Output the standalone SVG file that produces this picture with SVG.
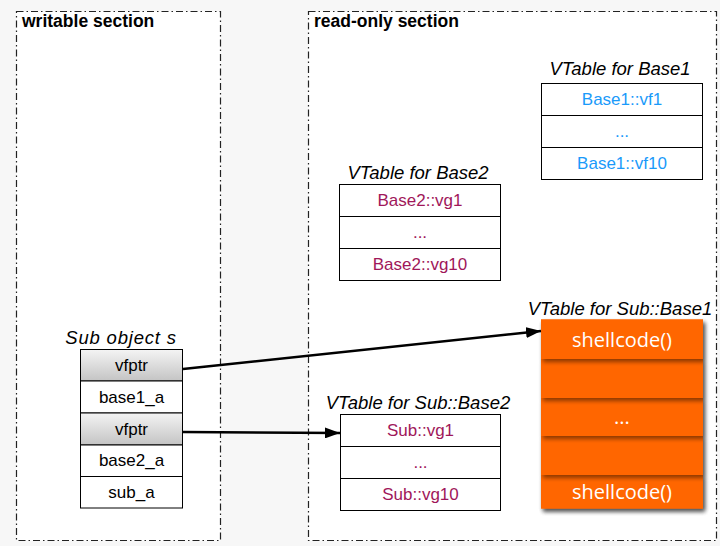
<svg xmlns="http://www.w3.org/2000/svg" width="720" height="546" viewBox="0 0 720 546">
<defs>
  <linearGradient id="gv" x1="0" y1="0" x2="0" y2="1">
    <stop offset="0" stop-color="#f4f4f4"/>
    <stop offset="1" stop-color="#c4c4c4"/>
  </linearGradient>
  <filter id="sh" x="-10%" y="-10%" width="130%" height="130%">
    <feGaussianBlur in="SourceAlpha" stdDeviation="2"/>
    <feOffset dx="2" dy="3"/>
    <feComponentTransfer><feFuncA type="linear" slope="0.45"/></feComponentTransfer>
    <feMerge><feMergeNode/><feMergeNode in="SourceGraphic"/></feMerge>
  </filter>
  <marker id="ah2" markerWidth="15" markerHeight="11" refX="15" refY="5.5" orient="auto" markerUnits="userSpaceOnUse">
    <path d="M0,0 L15,5.5 L0,11 Z" fill="#000"/>
  </marker>
</defs>
<style>
  .sec{fill:#fff;stroke:#222;stroke-width:1.2;stroke-dasharray:7,3,1.5,3}
  .st{font-family:"Liberation Sans",Arial,sans-serif;font-weight:bold;font-size:17.5px;fill:#000}
  .cell{fill:#fff;stroke:#000;stroke-width:1}
  .t{font-family:"Liberation Sans",Arial,sans-serif;font-size:17px;text-anchor:middle}
  .ti{font-family:"Liberation Sans",Arial,sans-serif;font-size:18.5px;font-style:italic;fill:#000;text-anchor:middle}
  .blk{fill:#000}
  .blue{fill:#1a9afa}
  .mar{fill:#a0175a}
  .org{fill:#ff6600}
  .ow{font-family:"Open Sans","Liberation Sans",sans-serif;font-size:20px;fill:#fff;text-anchor:middle}
  .conn{stroke:#000;stroke-width:2.5;fill:none}
</style>
<rect width="720" height="546" fill="#f7f7f7"/>
<g id="writable">
  <rect class="sec" x="16.5" y="11.5" width="204" height="529"/>
  <text class="st" x="22" y="27">writable section</text>
</g>
<g id="readonly">
  <rect class="sec" x="308.5" y="11.5" width="408" height="529"/>
  <text class="st" x="314" y="27">read-only section</text>
</g>
<g id="subobj">
  <text class="ti" x="121" y="344" letter-spacing="0.8">Sub object s</text>
  <rect x="80.5" y="349.5" width="102" height="31.5" fill="url(#gv)" stroke="#000"/>
  <rect class="cell" x="80.5" y="381" width="102" height="32"/>
  <rect x="80.5" y="413" width="102" height="32" fill="url(#gv)" stroke="#000"/>
  <rect class="cell" x="80.5" y="445" width="102" height="31.5"/>
  <rect class="cell" x="80.5" y="476.5" width="102" height="31.5"/>
  <text class="t blk" x="131.5" y="371">vfptr</text>
  <text class="t blk" x="131.5" y="403">base1_a</text>
  <text class="t blk" x="131.5" y="435">vfptr</text>
  <text class="t blk" x="131.5" y="466">base2_a</text>
  <text class="t blk" x="131.5" y="498">sub_a</text>
</g>
<g id="vtBase1">
  <text class="ti" x="620" y="75">VTable for Base1</text>
  <rect class="cell" x="541.5" y="83.5" width="161" height="32"/>
  <rect class="cell" x="541.5" y="115.5" width="161" height="32"/>
  <rect class="cell" x="541.5" y="147.5" width="161" height="32"/>
  <text class="t blue" x="622" y="105">Base1::vf1</text>
  <text class="t blue" x="622" y="137">...</text>
  <text class="t blue" x="622" y="169">Base1::vf10</text>
</g>
<g id="vtBase2">
  <text class="ti" x="418" y="179">VTable for Base2</text>
  <rect class="cell" x="339.5" y="184.5" width="161" height="32"/>
  <rect class="cell" x="339.5" y="216.5" width="161" height="32"/>
  <rect class="cell" x="339.5" y="248.5" width="161" height="32"/>
  <text class="t mar" x="420" y="206">Base2::vg1</text>
  <text class="t mar" x="420" y="238">...</text>
  <text class="t mar" x="420" y="270">Base2::vg10</text>
</g>
<g id="vtSubBase2">
  <text class="ti" x="418" y="409">VTable for Sub::Base2</text>
  <rect class="cell" x="340.5" y="414.5" width="160" height="32"/>
  <rect class="cell" x="340.5" y="446.5" width="160" height="32"/>
  <rect class="cell" x="340.5" y="478.5" width="160" height="32"/>
  <text class="t mar" x="420.5" y="436">Sub::vg1</text>
  <text class="t mar" x="420.5" y="468">...</text>
  <text class="t mar" x="420.5" y="500">Sub::vg10</text>
</g>
<g id="vtSubBase1">
  <text class="ti" x="620" y="315">VTable for Sub::Base1</text>
  <g filter="url(#sh)">
    <rect class="org" x="541" y="319.5" width="162" height="189"/>
  </g>
  <g filter="url(#sh)">
    <rect class="org" x="541" y="475" width="162" height="33.5"/>
  </g>
  <g filter="url(#sh)">
    <rect class="org" x="541" y="436" width="162" height="39"/>
  </g>
  <g filter="url(#sh)">
    <rect class="org" x="541" y="398" width="162" height="38"/>
  </g>
  <g filter="url(#sh)">
    <rect class="org" x="541" y="359" width="162" height="39"/>
  </g>
  <g filter="url(#sh)">
    <rect class="org" x="541" y="319.5" width="162" height="39.5"/>
  </g>
  <text class="ow" x="622" y="347">shellcode()</text>
  <text class="ow" x="622" y="424">...</text>
  <text class="ow" x="622" y="499">shellcode()</text>
</g>
<g id="connectors">
  <line class="conn" x1="183" y1="369" x2="541" y2="331" marker-end="url(#ah2)"/>
  <line class="conn" x1="183" y1="432" x2="340" y2="433" marker-end="url(#ah2)"/>
</g>
</svg>
